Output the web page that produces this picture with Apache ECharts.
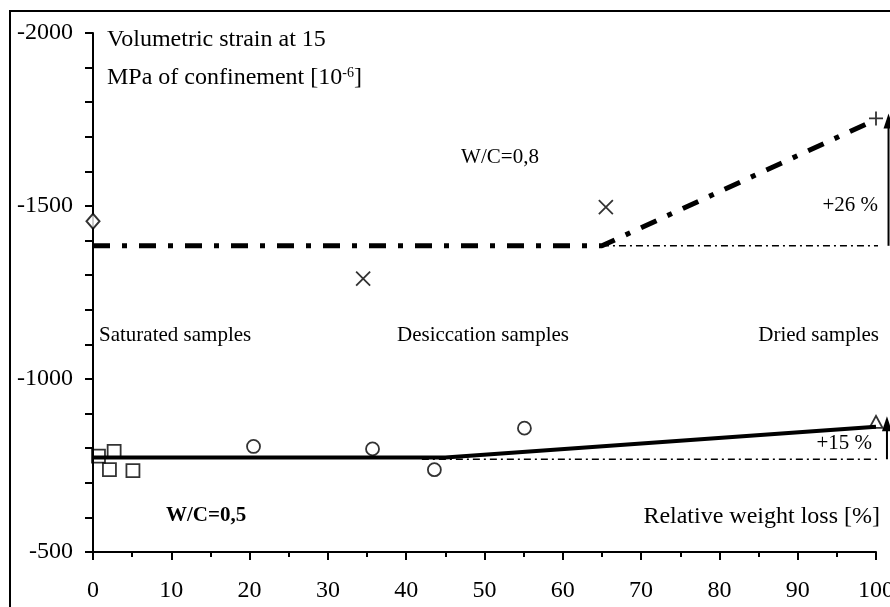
<!DOCTYPE html>
<html>
<head>
<meta charset="utf-8">
<script src="https://cdn.jsdelivr.net/npm/echarts@6/dist/echarts.min.js"></script>
<style>
html,body{margin:0;padding:0;background:#fff;overflow:hidden;}
#chart{width:890px;height:607px;}
</style>
</head>
<body>
<div id="chart"></div>
<script>
// ---------- data ----------
const xTickLabels = ['0','10','20','30','40','50','60','70','80','90','100'];
const yTickLabels = ['-2000','-1500','-1000','-500'];

// W/C = 0,8
const wc08Diamond = [[0, -1456]];
const wc08Cross   = [[34.5, -1290], [65.5, -1497]];
const wc08Plus    = [[100, -1753]];
const wc08Trend   = [[0, -1385], [65, -1385], [100, -1750]];
const wc08Base    = [[65, -1385], [101.6, -1385]];
const wc08Arrow   = [[101.6, -1385, -1767]];

// W/C = 0,5
const wc05Squares  = [[0.7, -777], [2.7, -791], [2.1, -738], [5.1, -735]];
const wc05Circles  = [[20.5, -805], [35.7, -798], [43.6, -738], [55.1, -858]];
const wc05Triangle = [[100, -876]];
const wc05Trend    = [[0, -773], [45, -773], [100, -862]];
const wc05Base     = [[42, -768], [101.4, -768]];
const wc05Arrow    = [[101.4, -768, -892]];

// ---------- chart ----------
const FONT = '"Liberation Serif","Times New Roman",serif';
const chart = echarts.init(document.getElementById('chart'), null, {width: 890, height: 607});

const openStyle = {color: 'transparent', borderColor: '#000', borderWidth: 1.8};
const strokeStyle = {color: 'transparent', borderColor: '#000', borderWidth: 1.8};

function arrowRender(params, api) {
  const x = api.value(0);
  const p0 = api.coord([x, api.value(1)]);
  const p1 = api.coord([x, api.value(2)]);
  return {
    type: 'group',
    children: [
      {type: 'line', shape: {x1: p0[0], y1: p0[1], x2: p1[0], y2: p1[1] + 10},
       style: {stroke: '#000', lineWidth: 2}},
      {type: 'polygon', shape: {points: [[p1[0], p1[1]], [p1[0] - 5, p1[1] + 15], [p1[0] + 5, p1[1] + 15]]},
       style: {fill: '#000'}}
    ]
  };
}

function txt(text, x, y, size, opts) {
  return {
    type: 'text', silent: true, z: 100,
    style: Object.assign({
      text: text, x: x, y: y, fill: '#000',
      font: size + 'px ' + FONT,
      align: 'left', verticalAlign: 'middle'
    }, opts || {})
  };
}

chart.setOption({
  animation: false,
  backgroundColor: '#fff',
  grid: {left: 93, right: 14, top: 33, bottom: 55, containLabel: false, outerBoundsMode: 'none'},
  xAxis: {
    type: 'value', min: 0, max: 100, interval: 10,
    axisLine: {show: true, onZero: false, lineStyle: {color: '#000', width: 2}},
    axisTick: {show: true, length: 8, lineStyle: {color: '#000', width: 2}},
    minorTick: {show: true, splitNumber: 2, length: 5, lineStyle: {color: '#000', width: 2}},
    splitLine: {show: false},
    axisLabel: {
      color: '#000', fontFamily: FONT, fontSize: 24, margin: 27,
      formatter: v => xTickLabels[Math.round(v / 10)] || ''
    }
  },
  yAxis: {
    type: 'value', inverse: true, min: -2000, max: -500, interval: 500,
    axisLine: {show: true, onZero: false, lineStyle: {color: '#000', width: 2}},
    axisTick: {show: true, length: 8, lineStyle: {color: '#000', width: 2}},
    minorTick: {show: true, splitNumber: 5, length: 8, lineStyle: {color: '#000', width: 2}},
    splitLine: {show: false},
    axisLabel: {
      color: '#000', fontFamily: FONT, fontSize: 24, margin: 20,
      formatter: v => yTickLabels[Math.round((v + 2000) / 500)] || ''
    }
  },
  series: [
    {type: 'line', data: wc08Base, symbol: 'none', clip: false, z: 2,
     lineStyle: {color: '#000', width: 1.6, type: [7, 4, 2, 4]}},
    {type: 'line', data: wc08Trend, symbol: 'none', clip: false, z: 3,
     lineStyle: {color: '#000', width: 5, type: [17, 12, 5, 12], cap: 'butt'}},
    {type: 'line', data: wc05Base, symbol: 'none', clip: false, z: 2,
     lineStyle: {color: '#000', width: 1.6, type: [7, 4, 2, 4]}},
    {type: 'line', data: wc05Trend, symbol: 'none', clip: false, z: 3,
     lineStyle: {color: '#000', width: 4}},
    {type: 'custom', data: wc08Arrow, renderItem: arrowRender, clip: false, z: 4,
     encode: {x: 0, y: [1, 2]}},
    {type: 'custom', data: wc05Arrow, renderItem: arrowRender, clip: false, z: 4,
     encode: {x: 0, y: [1, 2]}},
    {type: 'scatter', data: wc08Diamond, symbol: 'diamond', symbolSize: [13, 15], clip: false, z: 5,
     itemStyle: {color: '#fff', borderColor: '#000', borderWidth: 2}},
    {type: 'scatter', data: wc08Cross, symbol: 'path://M0,0L10,10M10,0L0,10', symbolSize: 14, clip: false, z: 5,
     itemStyle: strokeStyle},
    {type: 'scatter', data: wc08Plus, symbol: 'path://M5,0L5,10M0,5L10,5', symbolSize: 14, clip: false, z: 5,
     itemStyle: strokeStyle},
    {type: 'scatter', data: wc05Squares, symbol: 'rect', symbolSize: 13, clip: false, z: 5,
     itemStyle: openStyle},
    {type: 'scatter', data: wc05Circles, symbol: 'circle', symbolSize: 13, clip: false, z: 5,
     itemStyle: openStyle},
    {type: 'scatter', data: wc05Triangle, symbol: 'triangle', symbolSize: [13, 12], clip: false, z: 5,
     itemStyle: openStyle}
  ],
  graphic: [
    {type: 'rect', silent: true, z: 100,
     shape: {x: 10, y: 11, width: 900, height: 620},
     style: {fill: 'none', stroke: '#000', lineWidth: 2}},
    txt('Volumetric strain at 15', 107, 40, 24),
    txt('MPa of confinement [10{sup|-6}]', 107, 78, 24,
        {rich: {sup: {fontSize: 14, fontFamily: FONT, verticalAlign: 'top', padding: [0, 0, 8, 0]}}}),
    txt('W/C=0,8', 500, 157, 21, {align: 'center'}),
    txt('+26 %', 878, 205, 21, {align: 'right'}),
    txt('Saturated samples', 99, 335, 21),
    txt('Desiccation samples', 483, 335, 21, {align: 'center'}),
    txt('Dried samples', 879, 335, 21, {align: 'right'}),
    txt('+15 %', 872, 443, 21, {align: 'right'}),
    txt('Relative weight loss [%]', 880, 517, 24, {align: 'right'}),
    txt('W/C=0,5', 166, 516, 21, {font: 'bold 21px ' + FONT})
  ]
});
</script>
</body>
</html>
